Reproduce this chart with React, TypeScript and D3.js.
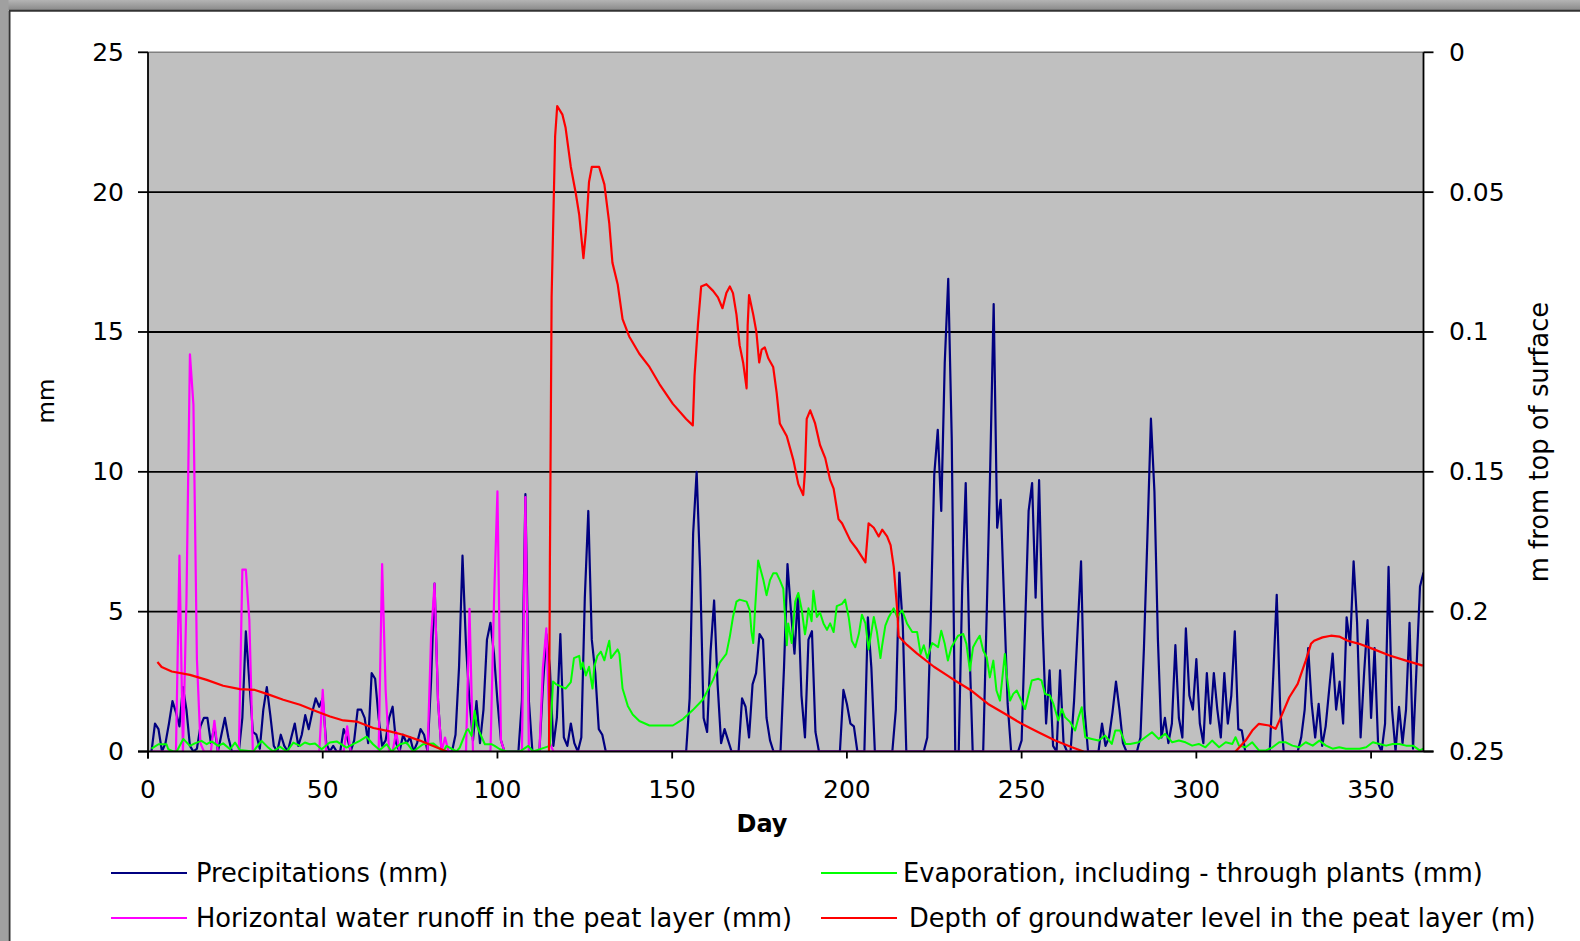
import React from 'react';
import * as d3 from 'd3';

const W = 1580;
const H = 941;
const PL = 148, PR = 1423.5, PT = 52.3, PB = 751.5;

const xTickValues = [0, 50, 100, 150, 200, 250, 300, 350];
const leftTickValues = [0, 5, 10, 15, 20, 25];
const rightTickValues = [0, 0.05, 0.1, 0.15, 0.2, 0.25];
const rightTickLabels = ['0', '0.05', '0.1', '0.15', '0.2', '0.25'];

// Precipitation (mm), day 1..365
const precipitation = [
  0, 1.0, 0.8, 0, 0.3, 1.0, 1.8, 1.4, 0.9, 2.3,
  1.5, 0.2, 0, 0.1, 0.9, 1.2, 1.2, 0.3, 0.9, 0,
  0.6, 1.2, 0.5, 0, 0, 0, 1.2, 4.3, 2.5, 0.7,
  0.6, 0.1, 1.5, 2.3, 1.3, 0.2, 0, 0.6, 0.2, 0,
  0.5, 1.0, 0.2, 0.6, 1.3, 0.8, 1.4, 1.9, 1.6, 1.9,
  0.3, 0, 0.2, 0, 0, 0.8, 0.5, 0, 0.4, 1.5,
  1.5, 1.2, 0.3, 2.8, 2.6, 1.2, 0.2, 0.4, 1.2, 1.6,
  0.3, 0, 0.6, 0.3, 0.5, 0, 0.3, 0.8, 0.6, 0,
  2.5, 6.0, 1.8, 0, 0, 0, 0, 0.6, 3.0, 7.0,
  3.8, 1.8, 0.4, 1.8, 0.3, 1.5, 4.0, 4.6, 3.5, 1.8,
  0.4, 0, 0, 0, 0, 0, 1.8, 9.2, 1.8, 0,
  0, 0, 2.3, 4.2, 3.0, 0.2, 1.2, 4.2, 0.5, 0.2,
  1.0, 0.3, 0, 0.5, 5.5, 8.6, 4.0, 2.8, 0.8, 0.6,
  0, 0, 0, 0, 0, 0, 0, 0, 0, 0,
  0, 0, 0, 0, 0, 0, 0, 0, 0, 0,
  0, 0, 0, 0, 1.9, 7.8, 10.0, 6.5, 1.2, 0.7,
  3.6, 5.4, 2.4, 0.3, 0.8, 0.4, 0, 0, 0, 1.9,
  1.6, 0.5, 2.4, 2.8, 4.2, 4.0, 1.2, 0.4, 0, 0,
  0, 3.0, 6.7, 5.0, 3.5, 5.6, 2.0, 0.5, 4.0, 4.3,
  0.7, 0, 0, 0, 0, 0, 0, 0, 2.2, 1.7,
  1.0, 0.9, 0, 0, 0, 4.8, 3.0, 0, 0, 0,
  0, 0, 0, 1.5, 6.4, 4.5, 0, 0, 0, 0,
  0, 0, 0.5, 4.8, 9.9, 11.5, 8.6, 13.9, 16.9, 11.2,
  0, 0, 5.9, 9.6, 4.0, 0, 0, 0, 0, 4.9,
  10.1, 16.0, 8.0, 9.0, 5.3, 1.7, 0, 0, 0, 0.4,
  4.5, 8.6, 9.6, 5.5, 9.7, 4.5, 1.0, 2.9, 0.2, 0,
  2.9, 0.3, 0, 0, 1.8, 4.3, 6.8, 1.5, 0, 0,
  0, 0, 1.0, 0.2, 0.5, 1.4, 2.5, 1.5, 0.3, 0,
  0, 0, 0, 0.5, 3.7, 7.7, 11.9, 9.3, 4.0, 0.5,
  1.2, 0.3, 1.0, 3.8, 1.2, 0.5, 4.4, 2.0, 1.5, 3.3,
  1.0, 0.3, 2.8, 1.0, 2.8, 1.5, 0.5, 2.8, 1.0, 2.0,
  4.3, 0.8, 0.75, 0, 0, 0, 0, 0, 0, 0,
  0, 2.7, 5.6, 1.5, 0, 0, 0, 0, 0, 0.5,
  1.5, 3.7, 1.7, 0.5, 1.7, 0.2, 0.9, 2.2, 3.5, 1.5,
  2.5, 1.0, 4.8, 3.8, 6.8, 4.6, 0.5, 2.8, 4.7, 1.2,
  3.7, 0.3, 0, 1.0, 6.6, 1.5, 0, 1.6, 0.3, 1.5,
  4.6, 0.1, 3.0, 5.9, 6.4,
];

// Horizontal water runoff in the peat layer (mm): [day, value]
const runoff: [number, number][] = [
  [1, 0], [8, 0], [9, 7.0], [10, 0], [11, 5.4], [12, 14.2], [13, 12.4], [14, 3.3], [15, 0.3], [16, 0],
  [18, 0], [19, 1.1], [20, 0], [26, 0], [27, 6.5], [28, 6.5], [29, 4.7], [30, 0], [49, 0], [50, 2.2],
  [51, 0], [56, 0], [57, 0.9], [58, 0], [66, 0], [67, 6.7], [68, 2.2], [69, 0], [70, 0], [71, 0.7],
  [72, 0], [80, 0], [81, 4.1], [82, 6.0], [83, 1.8], [84, 0], [85, 0.5], [86, 0], [91, 0], [92, 5.1],
  [93, 0], [98, 0], [99, 5.3], [100, 9.3], [101, 0.4], [102, 0], [107, 0], [108, 9.1], [109, 0], [112, 0],
  [113, 3.0], [114, 4.4], [115, 0.3], [116, 0], [365, 0],
];

// Evaporation, including through plants (mm): [day, value]
const evaporation: [number, number][] = [
  [1, 0.1], [3, 0.26], [5.3, 0.26], [5.8, 0.08], [7.2, 0], [8.2, 0], [10.1, 0.45], [12, 0.2], [13.4, 0.29], [15.3, 0.38],
  [16.8, 0.26], [18.2, 0.36], [20.1, 0.2], [21.5, 0.29], [23.5, 0.08], [24.9, 0.32], [26.3, 0.05], [30.1, 0], [32.5, 0.38], [34.4, 0.14],
  [35.8, 0], [37.8, 0.17], [39.7, 0], [41.6, 0.32], [43.5, 0.2], [44.9, 0.32], [46.3, 0.26], [47.8, 0.29], [49.7, 0.08], [52, 0.32],
  [54, 0.36], [54.9, 0.29], [56.8, 0.14], [58.7, 0.26], [60.6, 0.38], [62.5, 0.53], [64.4, 0.26], [66.3, 0.05], [68.3, 0.26], [69.7, 0],
  [72.1, 0.26], [74, 0.32], [75.9, 0], [78.7, 0.26], [81.6, 0.29], [84.5, 0], [85.4, 0.2], [88.3, 0], [89.2, 0.14], [91.1, 0.74],
  [91.6, 0.8], [92.6, 0.56], [93.5, 1.46], [94, 0.98], [94.9, 0.68], [96.4, 0.26], [98.3, 0.26], [99.2, 0.2], [100.7, 0.08], [102.6, 0],
  [106.4, 0], [108.8, 0.2], [110.2, 0], [113.5, 0.14], [115, 0.2], [115.9, 2.5], [116.7, 2.41], [118.1, 2.33], [119.5, 2.25], [121, 2.48],
  [121.9, 3.34], [123.4, 3.42], [123.9, 2.95], [124.4, 3.18], [125.3, 2.72], [126.2, 3.03], [127.2, 2.25], [127.7, 3.03], [128.6, 3.42], [129.6, 3.57],
  [130.6, 3.26], [131.5, 3.73], [132, 3.96], [132.5, 3.34], [133.4, 3.49], [134.4, 3.65], [134.9, 3.49], [135.8, 2.25], [137.3, 1.63], [138.7, 1.32],
  [140.6, 1.09], [143.5, 0.93], [146.4, 0.93], [150.2, 0.93], [153.1, 1.16], [155.9, 1.48], [158.8, 1.86], [161.7, 2.56], [163.6, 3.18], [165.5, 3.49],
  [166.5, 4.11], [167.4, 4.81], [168.4, 5.36], [169.3, 5.43], [171.3, 5.36], [172.2, 5.05], [172.7, 4.27], [173.2, 3.88], [173.7, 5.05], [174.6, 6.83],
  [175.1, 6.6], [176.1, 6.13], [177, 5.59], [178, 6.13], [178.9, 6.37], [179.9, 6.37], [180.8, 6.13], [181.8, 5.82], [182.8, 3.8], [183.2, 4.58],
  [184.2, 3.88], [185.2, 5.36], [186.1, 5.67], [187.1, 5.05], [188, 4.19], [188.5, 4.58], [189, 5.12], [189.9, 4.66], [190.4, 5.75], [191.4, 4.81],
  [192.3, 4.97], [193.3, 4.58], [194.3, 4.35], [195.2, 4.58], [196.2, 4.27], [197.1, 5.2], [198.6, 5.28], [199.5, 5.43], [200.5, 4.81], [201.4, 3.96],
  [202.4, 3.73], [203.4, 4.19], [204.3, 4.89], [205.3, 4.58], [206.2, 3.65], [207.7, 4.81], [208.6, 4.27], [209.6, 3.34], [210.1, 3.8], [211, 4.5],
  [212, 4.81], [213.4, 5.12], [214.4, 4.81], [215.8, 5.05], [217.2, 4.58], [218.7, 4.27], [220.1, 4.27], [221.1, 3.49], [222, 3.8], [223, 3.34],
  [224.4, 3.88], [226.1, 3.73], [227, 4.32], [228, 3.85], [228.9, 3.25], [229.9, 3.73], [231.8, 4.14], [233.3, 4.2], [234.2, 3.85], [235.2, 2.89],
  [236.1, 3.73], [237.1, 3.96], [238, 4.14], [239, 3.61], [240, 3.37], [240.9, 2.65], [241.9, 3.25], [242.8, 2.18], [243.8, 1.82], [245.2, 3.49],
  [245.7, 2.77], [246.7, 1.82], [247.6, 2.06], [248.6, 2.18], [249.5, 1.94], [251, 1.52], [252.9, 2.54], [254.8, 2.6], [255.7, 2.54], [256.7, 2.06],
  [258.1, 2.0], [259.1, 1.7], [260.5, 1.11], [261.5, 1.52], [262.4, 1.23], [263.9, 1.05], [265.3, 0.75], [266.3, 1.23], [267.2, 1.58], [268.2, 0.51],
  [270.1, 0.45], [272, 0.39], [273.9, 0.57], [275.8, 0.27], [276.8, 0.75], [278.2, 0.75], [279.7, 0.27], [281.1, 0.27], [283.5, 0.33], [285.4, 0.51],
  [287.3, 0.69], [289.2, 0.45], [291.1, 0.63], [293.1, 0.33], [295, 0.39], [296.9, 0.33], [298.8, 0.21], [300.7, 0.27], [302.6, 0.15], [304.5, 0.39],
  [306.5, 0.15], [308.4, 0.33], [310.3, 0.27], [311.2, 0.51], [312.2, 0.21], [314.1, 0.15], [316, 0.33], [317.9, 0.04], [319.9, 0.04], [321.8, 0.15],
  [323.7, 0.33], [325.6, 0.33], [327.5, 0.21], [329.4, 0.15], [331.3, 0.33], [333.3, 0.21], [335.2, 0.39], [337.1, 0.21], [339, 0.1], [340.9, 0.15],
  [342.8, 0.1], [344.7, 0.1], [346.7, 0.1], [348.6, 0.15], [350.5, 0.33], [352.4, 0.27], [354.3, 0.21], [356.2, 0.27], [358.1, 0.27], [360, 0.21],
  [362, 0.21], [363.9, 0.04], [365, 0.1],
];

// Depth of groundwater level in the peat layer (m): [day, value]; null = off the chart
const depth: [number, number | null][] = [
  [2.7, 0.218], [3.9, 0.2198], [6.8, 0.2214], [12, 0.2226], [16.8, 0.2244], [21.5, 0.2265], [26.3, 0.2277], [30.6, 0.228], [34, 0.2294], [38.7, 0.2315],
  [43.5, 0.2333], [48.3, 0.2357], [52.1, 0.2375], [55.9, 0.2389], [59.7, 0.2393], [64.5, 0.2416], [69.2, 0.2428], [73, 0.244], [77.8, 0.2461], [81.6, 0.248],
  [85.5, 0.25], [100, null], [114.75, 0.25], [115, 0.184], [115.5, 0.0876], [116, 0.0589], [116.5, 0.0301], [117.1, 0.0192], [118.6, 0.0223], [119.5, 0.027],
  [121, 0.041], [122.4, 0.0503], [123.4, 0.0581], [124.6, 0.0736], [125.3, 0.0643], [126.2, 0.0464], [127, 0.041], [129.1, 0.041], [130.6, 0.0472], [132, 0.0612],
  [132.9, 0.0752], [134.4, 0.0829], [135.8, 0.0954], [137.7, 0.1016], [140.6, 0.1078], [143.5, 0.1125], [146.4, 0.1187], [150.2, 0.1257], [154, 0.1311], [155.9, 0.1334],
  [156.4, 0.1156], [157.4, 0.0969], [158.3, 0.0837], [159.8, 0.0829], [161.7, 0.0853], [163.1, 0.0876], [164.4, 0.0915], [165.5, 0.0861], [166.5, 0.0837], [167.4, 0.0861],
  [168.4, 0.0938], [169.3, 0.1047], [170.3, 0.1109], [171.3, 0.1202], [171.6, 0.0977], [172, 0.0868], [173.2, 0.0938], [174.1, 0.1], [174.9, 0.1109], [175.6, 0.1063],
  [176.5, 0.1055], [177.5, 0.1094], [178.9, 0.1125], [179.9, 0.1218], [180.8, 0.1327], [182.8, 0.1373], [184.7, 0.1459], [186.1, 0.1544], [187.5, 0.1583], [188, 0.1498],
  [188.5, 0.1311], [189.5, 0.128], [190.9, 0.1327], [192.3, 0.1404], [193.8, 0.1451], [195.2, 0.1529], [196.2, 0.156], [197.6, 0.1669], [198.6, 0.1684], [201, 0.1746],
  [202.9, 0.1777], [205.3, 0.1824], [206.2, 0.1684], [207.7, 0.17], [209.1, 0.1731], [210.1, 0.1707], [211.5, 0.1731], [212.5, 0.1762], [213.4, 0.184], [214.4, 0.1995],
  [214.8, 0.2088], [217.2, 0.2119], [220.1, 0.215], [224.9, 0.2197], [228.7, 0.2228], [230.9, 0.2246], [235.6, 0.2282], [240.4, 0.233], [245.2, 0.2365], [250, 0.2401],
  [254.8, 0.2431], [259.6, 0.2461], [264.4, 0.2485], [267.7, 0.25], [290, null], [311.2, 0.25], [314.1, 0.2461], [316, 0.2425], [317.9, 0.2401], [320.8, 0.2407],
  [322.7, 0.2419], [324.2, 0.2377], [326.6, 0.2306], [329, 0.2258], [331.3, 0.2175], [332.8, 0.2115], [333.7, 0.2104], [336.1, 0.2092], [338.5, 0.2086], [340.9, 0.2089],
  [343.3, 0.2104], [346.6, 0.2115], [350.5, 0.2133], [355.3, 0.2157], [360, 0.2175], [364.8, 0.2193],
];

const legendItems = [
  { label: 'Precipitations (mm)', color: '#000080', col: 0, row: 0 },
  { label: 'Evaporation, including - through plants (mm)', color: '#00FF00', col: 1, row: 0 },
  { label: 'Horizontal water runoff in the peat layer (mm)', color: '#FF00FF', col: 0, row: 1 },
  { label: 'Depth of groundwater level in the peat layer (m)', color: '#FF0000', col: 1, row: 1 },
];

const FONT = '"DejaVu Sans", Verdana, sans-serif';

export default function App() {
  const x = d3.scaleLinear().domain([0, 365]).range([PL, PR]);
  const yL = d3.scaleLinear().domain([0, 25]).range([PB, PT]);
  const yR = d3.scaleLinear().domain([0, 0.25]).range([PT, PB]);

  const precipLine = d3.line<number>().x((_, i) => x(i + 1)).y((v) => yL(v));
  const pairLine = d3.line<[number, number]>().x((d) => x(d[0])).y((d) => yL(d[1]));
  const depthLine = d3
    .line<[number, number | null]>()
    .defined((d) => d[1] !== null)
    .x((d) => x(d[0]))
    .y((d) => yR(d[1] as number));

  const legendLineX = [111, 821];
  const legendRowY = [873, 918];

  return (
    <svg
      width={W}
      height={H}
      style={{ position: 'absolute', left: 0, top: 0, display: 'block', background: '#fff' }}
      fontFamily={FONT}
    >
      <defs>
        <linearGradient id="topband" x1="0" y1="0" x2="0" y2="1">
          <stop offset="0" stopColor="#b4b4b4" />
          <stop offset="1" stopColor="#8a8a8a" />
        </linearGradient>
        <clipPath id="plotclip">
          <rect x={PL} y={PT - 1} width={PR - PL} height={PB - PT + 1} />
        </clipPath>
      </defs>
      <rect x={0} y={0} width={W} height={H} fill="#fff" />
      <rect x={0} y={0} width={W} height={10} fill="url(#topband)" />
      <rect x={0} y={0} width={8.5} height={H} fill="#a0a0a0" />
      <line x1={9.5} y1={10.5} x2={9.5} y2={H} stroke="#333" strokeWidth={2} />
      <line x1={9} y1={10.8} x2={W} y2={10.8} stroke="#333" strokeWidth={2} />

      {/* plot area */}
      <rect x={PL} y={PT} width={PR - PL} height={PB - PT} fill="#C0C0C0" />
      <line x1={PL} y1={PT} x2={PR} y2={PT} stroke="#808080" strokeWidth={1.6} />
      {leftTickValues.filter((v) => v > 0 && v < 25).map((v) => (
        <line key={'g' + v} x1={PL} x2={PR} y1={yL(v)} y2={yL(v)} stroke="#000" strokeWidth={1.8} />
      ))}

      <g clipPath="url(#plotclip)" fill="none" strokeLinejoin="round">
        <path d={precipLine(precipitation) || ''} stroke="#000080" strokeWidth={2.2} />
        <path d={pairLine(runoff) || ''} stroke="#FF00FF" strokeWidth={2.2} />
        <path d={pairLine(evaporation) || ''} stroke="#00FF00" strokeWidth={2} />
        <path d={depthLine(depth) || ''} stroke="#FF0000" strokeWidth={2.2} />
      </g>

      {/* axes */}
      <line x1={PL} y1={PT} x2={PL} y2={PB + 7} stroke="#000" strokeWidth={1.8} />
      <line x1={PR} y1={PT} x2={PR} y2={PB} stroke="#000" strokeWidth={1.8} />
      <line x1={PL - 10} y1={PB} x2={PR + 10} y2={PB} stroke="#000" strokeWidth={2.2} />

      {leftTickValues.map((v) => (
        <g key={'l' + v}>
          <line x1={PL - 10} x2={PL} y1={yL(v)} y2={yL(v)} stroke="#000" strokeWidth={1.8} />
          <text x={124} y={yL(v)} textAnchor="end" dominantBaseline="central" fontSize={25} fill="#000">
            {v}
          </text>
        </g>
      ))}
      {rightTickValues.map((v, i) => (
        <g key={'r' + v}>
          <line x1={PR} x2={PR + 10} y1={yR(v)} y2={yR(v)} stroke="#000" strokeWidth={1.8} />
          <text x={1449} y={yR(v)} textAnchor="start" dominantBaseline="central" fontSize={25} fill="#000">
            {rightTickLabels[i]}
          </text>
        </g>
      ))}
      {xTickValues.map((v) => (
        <g key={'x' + v}>
          <line x1={x(v)} x2={x(v)} y1={PB} y2={PB + 7} stroke="#000" strokeWidth={1.8} />
          <text x={x(v)} y={789} textAnchor="middle" dominantBaseline="central" fontSize={25} fill="#000">
            {v}
          </text>
        </g>
      ))}

      <text x={762} y={824} textAnchor="middle" dominantBaseline="central" fontSize={24} fontWeight="bold" fill="#000">
        Day
      </text>
      <text
        transform={`translate(46,401) rotate(-90)`}
        textAnchor="middle"
        dominantBaseline="central"
        fontSize={23}
        fill="#000"
      >
        mm
      </text>
      <text
        transform={`translate(1539,442) rotate(-90)`}
        textAnchor="middle"
        dominantBaseline="central"
        fontSize={25.8}
        fill="#000"
      >
        m from top of surface
      </text>

      {legendItems.map((it) => (
        <g key={it.label}>
          <line
            x1={legendLineX[it.col]}
            x2={legendLineX[it.col] + 76}
            y1={legendRowY[it.row]}
            y2={legendRowY[it.row]}
            stroke={it.color}
            strokeWidth={2.2}
          />
          <text
            x={it.col === 0 ? 196 : it.row === 0 ? 903 : 909}
            y={legendRowY[it.row]}
            dominantBaseline="central"
            fontSize={25.7}
            fill="#000"
          >
            {it.label}
          </text>
        </g>
      ))}
    </svg>
  );
}
